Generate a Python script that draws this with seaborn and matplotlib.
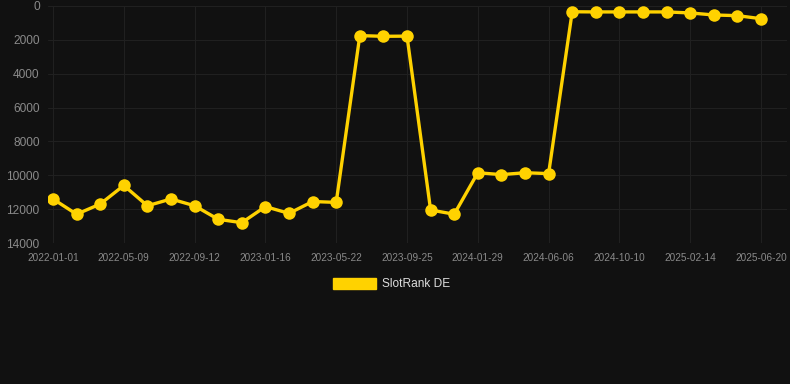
import matplotlib
matplotlib.use("Agg")
import matplotlib.pyplot as plt
import seaborn as sns
import pandas as pd
from matplotlib.patches import Patch

# ── data ──────────────────────────────────────────────────────
dates = ["2022-01-01", "2022-02-12", "2022-03-26", "2022-05-09", "2022-06-20",
         "2022-08-01", "2022-09-12", "2022-10-24", "2022-12-05", "2023-01-16",
         "2023-02-27", "2023-04-10", "2023-05-22", "2023-07-03", "2023-08-14",
         "2023-09-25", "2023-11-06", "2023-12-18", "2024-01-29", "2024-03-11",
         "2024-04-24", "2024-06-06", "2024-07-18", "2024-08-29", "2024-10-10",
         "2024-11-21", "2025-01-03", "2025-02-14", "2025-03-28", "2025-05-09",
         "2025-06-20"]
rank_de = [11400, 12300, 11700, 10600, 11800, 11400, 11800, 12600, 12800, 11850,
           12250, 11550, 11600, 1750, 1790, 1780, 12050, 12300, 9850, 9960,
           9850, 9900, 340, 350, 350, 350, 350, 410, 530, 570,
           750]
y_ticks = [0, 2000, 4000, 6000, 8000, 10000, 12000, 14000]

BG = "#111111"
GRID = "#202020"
GOLD = "#FFD200"
TXT = "#8a8a8a"

df = pd.DataFrame({"date": dates, "rank": rank_de})
df["pos"] = range(len(df))

sns.set_theme(style="dark")
plt.rcParams["font.family"] = ["Liberation Sans", "DejaVu Sans"]

fig = plt.figure(figsize=(7.9, 3.84), dpi=100, facecolor=BG)
ax = fig.add_axes([48 / 790, 1 - 243 / 384, (787 - 48) / 790, (243 - 6) / 384])
ax.set_facecolor(BG)

sns.lineplot(data=df, x="pos", y="rank", ax=ax, color=GOLD, lw=2.4,
             marker="o", markersize=9, markeredgewidth=0, zorder=3)

px = (761 - 53) / 30
ax.set_xlim(-(53 - 48) / px, 30 + (787 - 761) / px)
ax.set_ylim(14000, 0)
ax.set_yticks(y_ticks)
ax.set_yticklabels([str(v) for v in y_ticks])
ax.set_xticks(df["pos"][::3])
ax.set_xticklabels(df["date"][::3])

ax.grid(True, color=GRID, lw=0.8)
for s in ax.spines.values():
    s.set_visible(False)
ax.tick_params(axis="y", colors=TXT, labelsize=8.6, length=0, pad=6)
ax.tick_params(axis="x", colors=TXT, labelsize=7.2, length=4, width=0.8,
               color=GRID, pad=3)
ax.set_xlabel("")
ax.set_ylabel("")

leg = fig.legend(handles=[Patch(color=GOLD, label="SlotRank DE")],
                 loc="center", bbox_to_anchor=(392 / 790, 1 - 284 / 384),
                 frameon=False, fontsize=8.6, handlelength=3.6, handleheight=1.1,
                 handletextpad=0.5)
for t in leg.get_texts():
    t.set_color("#dddddd")

fig.savefig("out.png", dpi=100, facecolor=BG)
plt.close(fig)
